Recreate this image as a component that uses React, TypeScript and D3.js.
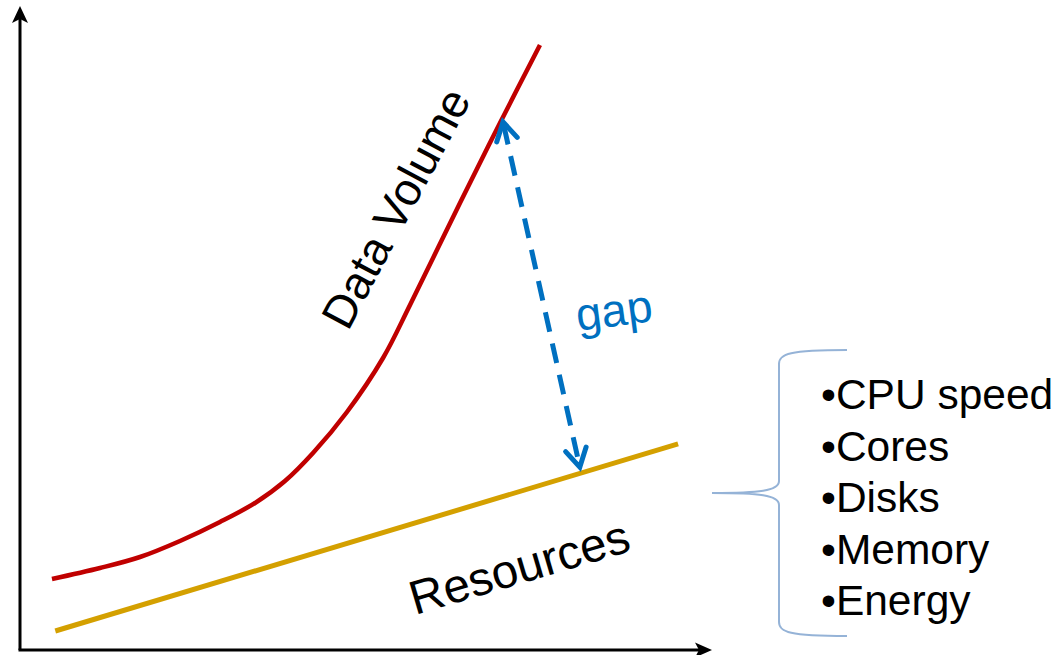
import React from "react";
import * as d3 from "d3";

// Data (in abstract axis units 0..10)
const dataVolumeX = [0.462, 1.156, 1.734, 2.312, 2.890, 3.396, 3.829, 4.234, 4.725, 5.246, 5.636, 6.358, 6.936, 7.514];
const dataVolumeY = [1.102, 1.273, 1.444, 1.693, 1.988, 2.283, 2.624, 3.059, 3.696, 4.534, 5.357, 6.941, 8.183, 9.394];
const resourcesX = [0.51, 9.51];
const resourcesY = [0.295, 3.20];
const gapX = [6.98, 8.09];
const gapY = [8.20, 2.84];
const resourceItems = ["•CPU speed", "•Cores", "•Disks", "•Memory", "•Energy"];

const W = 1056;
const H = 655;
const FONT = "'Liberation Sans', Arial, Helvetica, sans-serif";

export default function App() {
  const x = d3.scaleLinear().domain([0, 10]).range([20, 712]);
  const y = d3.scaleLinear().domain([0, 10]).range([650, 6]);

  const line = d3
    .line<[number, number]>()
    .x((d) => x(d[0]))
    .y((d) => y(d[1]))
    .curve(d3.curveCatmullRom.alpha(0.5));

  const dv: [number, number][] = dataVolumeX.map((v, i) => [v, dataVolumeY[i]]);
  const rs: [number, number][] = resourcesX.map((v, i) => [v, resourcesY[i]]);

  // gap arrow
  const gx0 = x(gapX[0]), gy0 = y(gapY[0]);
  const gx1 = x(gapX[1]), gy1 = y(gapY[1]);
  const ang = Math.atan2(gy1 - gy0, gx1 - gx0);
  const armLen = 21;
  const spread = (30 * Math.PI) / 180;
  const chevron = (tx: number, ty: number, dir: number) => {
    const a1 = dir + Math.PI - spread;
    const a2 = dir + Math.PI + spread;
    return `M${tx + armLen * Math.cos(a1)},${ty + armLen * Math.sin(a1)}L${tx},${ty}L${tx + armLen * Math.cos(a2)},${ty + armLen * Math.sin(a2)}`;
  };

  // axes
  const ox = x(0), oy = y(0);
  const xEnd = x(10), yEnd = y(10);
  const yArrow = `M${ox},${yEnd}L${ox + 8},${yEnd + 17}L${ox},${yEnd + 13}L${ox - 8},${yEnd + 17}Z`;
  const xArrow = `M${xEnd},${oy}L${xEnd - 17},${oy + 7.5}L${xEnd - 13},${oy}L${xEnd - 17},${oy - 7.5}Z`;

  // brace
  const bx = 779, bTop = 350, bBot = 636, bMid = 493, bTip = 712, bRight = 847;
  const brace = `M${bRight},${bTop} C${bx + 10},${bTop} ${bx},${bTop + 4} ${bx},${bTop + 14}
    L${bx},${bMid - 12} C${bx},${bMid - 2} ${bx - 20},${bMid} ${bTip},${bMid}
    C${bx - 20},${bMid} ${bx},${bMid + 2} ${bx},${bMid + 12}
    L${bx},${bBot - 14} C${bx},${bBot - 4} ${bx + 10},${bBot} ${bRight},${bBot}`;

  return (
    <>
      <style>{`body{margin:0}`}</style>
      <svg width={W} height={H} style={{ display: "block", background: "#fff" }}>
        {/* axes */}
        <path d={`M${ox},${oy}L${ox},${yEnd + 12}`} stroke="#000" strokeWidth={3} fill="none" />
        <path d={`M${ox - 1.5},${oy}L${xEnd - 12},${oy}`} stroke="#000" strokeWidth={3} fill="none" />
        <path d={yArrow} fill="#000" />
        <path d={xArrow} fill="#000" />

        {/* resources line */}
        <path d={line(rs) || ""} stroke="#D4A000" strokeWidth={5} fill="none" />
        {/* data volume */}
        <path d={line(dv) || ""} stroke="#C00000" strokeWidth={4.5} fill="none" strokeLinecap="butt" />

        {/* gap arrow */}
        <path
          d={`M${gx0 + 3 * Math.cos(ang)},${gy0 + 3 * Math.sin(ang)}L${gx1 - 3 * Math.cos(ang)},${gy1 - 3 * Math.sin(ang)}`}
          stroke="#0070C0"
          strokeWidth={5}
          strokeDasharray="20,12"
          fill="none"
        />
        <path d={chevron(gx0, gy0, ang + Math.PI)} stroke="#0070C0" strokeWidth={5} fill="none" strokeLinecap="round" strokeLinejoin="miter" />
        <path d={chevron(gx1, gy1, ang)} stroke="#0070C0" strokeWidth={5} fill="none" strokeLinecap="round" strokeLinejoin="miter" />

        {/* labels */}
        <text x={348} y={332} transform="rotate(-62 348 332)" fontFamily={FONT} fontSize={46} fill="#000">
          Data Volume
        </text>
        <text x={415} y={615} transform="rotate(-16.5 415 615)" fontFamily={FONT} fontSize={47.5} fill="#000">
          Resources
        </text>
        <text x={578} y={331} transform="rotate(-7.5 578 331)" fontFamily={FONT} fontSize={46} fill="#0070C0">
          gap
        </text>

        {/* brace */}
        <path d={brace} stroke="#95B3D7" strokeWidth={2} fill="none" />

        {resourceItems.map((t, i) => (
          <text key={t} x={821} y={409 + i * 51.5} fontFamily={FONT} fontSize={42.5} fill="#000">
            {t}
          </text>
        ))}
      </svg>
    </>
  );
}
